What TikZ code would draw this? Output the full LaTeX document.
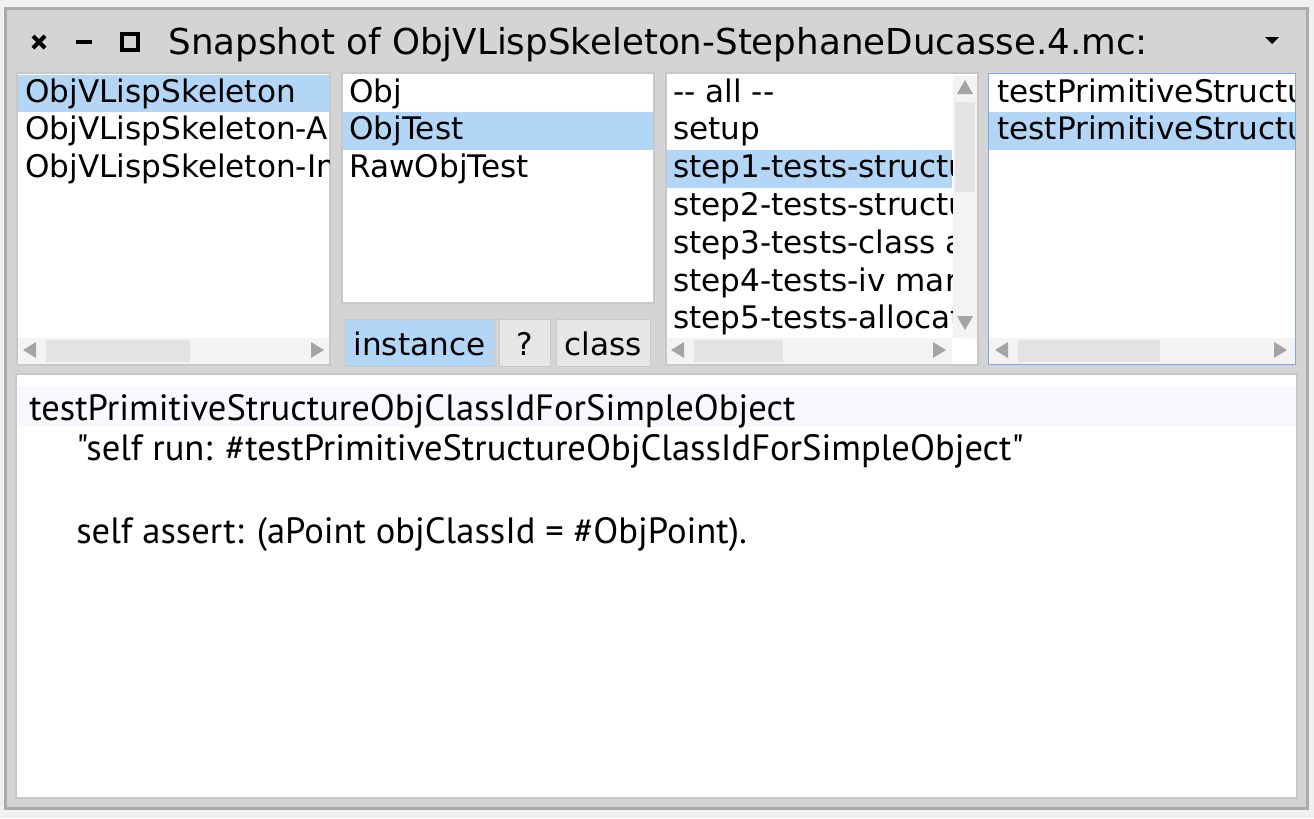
\documentclass[tikz,border=0pt]{standalone}
\usepackage{fontspec}
\setmainfont{DejaVu Sans}
\newfontfamily\codefont{PT Sans}
\usetikzlibrary{positioning}

\definecolor{pagebg}{HTML}{F0F0F0}
\definecolor{winbg}{HTML}{D4D4D4}
\definecolor{winedge}{HTML}{ABABAB}
\definecolor{paneedge}{HTML}{C8C8C8}
\definecolor{selblue}{HTML}{B3D6F6}
\definecolor{track}{HTML}{F3F3F3}
\definecolor{thumb}{HTML}{E3E3E3}
\definecolor{arrowgray}{HTML}{A4A4A4}
\definecolor{focusblue}{HTML}{7AAADF}
\definecolor{btnbg}{HTML}{E6E6E6}
\definecolor{codeline}{HTML}{F7F9FC}

\begin{document}
\begin{tikzpicture}[
        x=0.02cm, y=-0.02cm,
        pane/.style={fill=white, draw=paneedge, line width=0.6pt},
        selrow/.style={fill=selblue},
        scrolltrack/.style={fill=track},
        scrollthumb/.style={fill=thumb},
        item/.style={anchor=base west, inner sep=0pt, font=\fontsize{17.7}{21}\selectfont},
        button/.style={fill=btnbg, draw=paneedge, line width=0.4pt},
        codetext/.style={anchor=base west, inner sep=0pt, font=\codefont\fontsize{20.8}{24}\selectfont}
    ]

    % Hintergrund und Fensterrahmen
    \fill[pagebg] (0,0) rectangle (1314,818);
    \useasboundingbox (0,0) rectangle (1314,818);
    \fill[winbg] (5,8) rectangle (1308,809);
    \draw[winedge, line width=1.2pt] (5.5,8.5) rectangle (1307.5,808.5);

    % Titelleiste
    \draw[line width=2.4pt] (33,36) -- (45,48) (45,36) -- (33,48);
    \draw[line width=2.8pt] (76,42) -- (92,42);
    \draw[line width=2.4pt] (122,34) rectangle (138,50);
    \node[anchor=base west, inner sep=0pt, font=\fontsize{20.3}{24}\selectfont] (title) at (168,54) {Snapshot of ObjVLispSkeleton-StephaneDucasse.4.mc:};
    \fill (1265,37) -- (1279,37) -- (1272,44) -- cycle;

    % Paketliste
    \draw[pane] (17,73) rectangle (330,365);
    \begin{scope}
        \clip (18,74) rectangle (329,338);
        \fill[selrow] (18,75) rectangle (329,112);
        \foreach \txt [count=\i] in {ObjVLispSkeleton, ObjVLispSkeleton-A, ObjVLispSkeleton-In}
            \node[item] (pkg\i) at (25,{102+37.8*(\i-1)}) {\txt};
    \end{scope}
    \fill[scrolltrack] (18,338) rectangle (329,364);
    \fill[scrollthumb] (46,340) rectangle (190,362);
    \fill[arrowgray] (23,350) -- (36,342) -- (36,358) -- cycle;
    \fill[arrowgray] (324,350) -- (311,342) -- (311,358) -- cycle;

    % Klassenliste
    \draw[pane] (342,73) rectangle (654,303);
    \begin{scope}
        \clip (343,74) rectangle (653,302);
        \fill[selrow] (343,112) rectangle (653,150);
        \foreach \txt [count=\i] in {Obj, ObjTest, RawObjTest}
            \node[item] (cls\i) at (349,{102+37.8*(\i-1)}) {\txt};
    \end{scope}

    % Knoepfe instance / ? / class
    \draw[button, fill=selblue] (345,319) rectangle (494,366);
    \draw[button] (499,319) rectangle (550,366);
    \draw[button] (556,319) rectangle (650,366);
    \node[item, anchor=base] (inst) at (419.5,355) {instance};
    \node[item, anchor=base] (quest) at (524.5,355) {?};
    \node[item, anchor=base] (clsside) at (603,355) {class};

    % Protokollliste
    \draw[pane] (666,73) rectangle (978,365);
    \begin{scope}
        \clip (667,74) rectangle (952,338);
        \fill[selrow] (667,150) rectangle (952,188);
        \foreach \txt [count=\i] in {{{-}{-} all {-}{-}}, setup, step1-tests-structu, step2-tests-structu, step3-tests-class a, step4-tests-iv mar, step5-tests-allocat}
            \node[item] (prot\i) at (673,{102+37.8*(\i-1)}) {\txt};
    \end{scope}
    \fill[track] (953,76) rectangle (977,338);
    \fill[scrollthumb] (955,102) rectangle (975,192);
    \fill[arrowgray] (965,80) -- (957,94) -- (973,94) -- cycle;
    \fill[arrowgray] (965,330) -- (957,316) -- (973,316) -- cycle;
    \fill[scrolltrack] (667,338) rectangle (952,364);
    \fill[scrollthumb] (694,340) rectangle (783,362);
    \fill[arrowgray] (671,350) -- (684,342) -- (684,358) -- cycle;
    \fill[arrowgray] (946,350) -- (933,342) -- (933,358) -- cycle;
    \fill[white] (953,338) rectangle (977,364);

    % Methodenliste (aktiv)
    \fill[white] (988,73) rectangle (1296,365);
    \begin{scope}
        \clip (989,74) rectangle (1295,338);
        \fill[selrow] (989,112) rectangle (1295,150);
        \foreach \txt [count=\i] in {testPrimitiveStructu, testPrimitiveStructu}
            \node[item] (meth\i) at (997,{102+37.8*(\i-1)}) {\txt};
    \end{scope}
    \fill[scrolltrack] (989,338) rectangle (1295,364);
    \fill[scrollthumb] (1018,340) rectangle (1160,362);
    \fill[arrowgray] (995,350) -- (1008,342) -- (1008,358) -- cycle;
    \fill[arrowgray] (1287,350) -- (1274,342) -- (1274,358) -- cycle;
    \draw[focusblue, line width=1pt] (988.5,73.5) rectangle (1295.5,364.5);

    % Quelltextbereich
    \draw[pane] (16,374) rectangle (1297,798);
    \fill[codeline] (17,386) rectangle (1296,427);
    \node[codetext] (sel) at (29,420) {testPrimitiveStructureObjClassIdForSimpleObject};
    \node[codetext] (comment) at (76,460) {"self run: \#testPrimitiveStructureObjClassIdForSimpleObject"};
    \node[codetext] (assert) at (76,543) {self assert: (aPoint objClassId = \#ObjPoint).};

\end{tikzpicture}
\end{document}
